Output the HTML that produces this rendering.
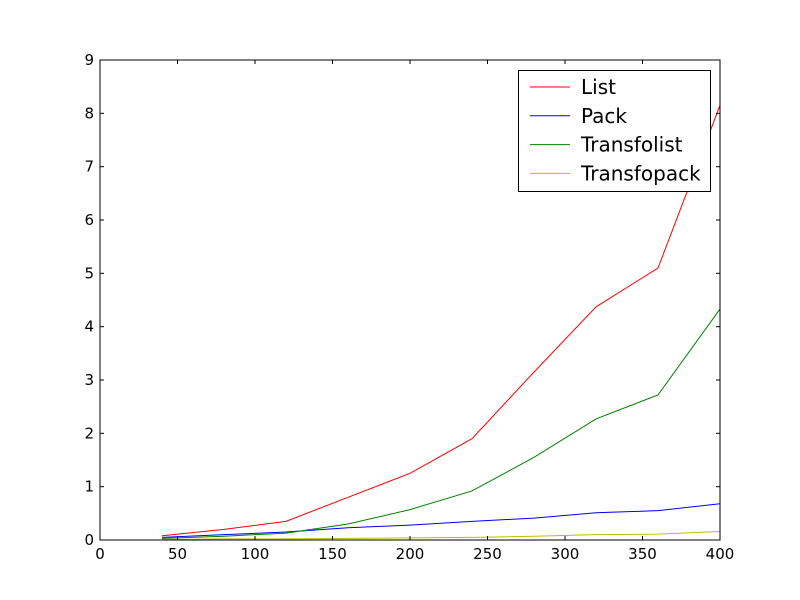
<!DOCTYPE html>
<html><head><meta charset="utf-8"><style>
body{margin:0;background:#fff}
svg{display:block;font-family:"DejaVu Sans","Liberation Sans",sans-serif}
</style></head><body>
<svg id="chart" width="800" height="600">
<rect width="800" height="600" fill="#fff"/>
<g id="plot"></g>
<rect x="100" y="60" width="620" height="480" fill="none" stroke="#000" stroke-width="1"/>
<g id="ticks"></g>
<g id="legend"></g>
</svg>
<script>
const xValues=[40,80,120,160,200,240,280,320,360,400];
const listValues=[0.08,0.2,0.35,0.8,1.25,1.9,3.15,4.37,5.1,8.15];
const packValues=[0.05,0.1,0.15,0.23,0.28,0.35,0.41,0.51,0.55,0.68];
const transfolistValues=[0.03,0.07,0.13,0.3,0.57,0.92,1.55,2.27,2.72,4.33];
const transfopackValues=[0.01,0.02,0.02,0.03,0.04,0.05,0.07,0.1,0.11,0.16];
const xTicks=[0,50,100,150,200,250,300,350,400];
const yTicks=[0,1,2,3,4,5,6,7,8,9];
const seriesNames=["List","Pack","Transfolist","Transfopack"];
const seriesColors=["#ff0000","#0000ff","#008000","#bfbf00"];

const NS="http://www.w3.org/2000/svg";
const L=100,R=720,T=60,B=540;
const xs=v=>L+(v-0)/(400-0)*(R-L);
const ys=v=>B-(v-0)/(9-0)*(B-T);
function mk(tag,attrs,parent){const e=document.createElementNS(NS,tag);for(const k in attrs)e.setAttribute(k,attrs[k]);parent.appendChild(e);return e;}
const plot=document.getElementById('plot');
const allSeries=[listValues,packValues,transfolistValues,transfopackValues];
allSeries.forEach((vals,i)=>{
  const p=mk('polyline',{points:vals.map((v,j)=>xs(xValues[j])+','+ys(v)).join(' '),fill:'none',stroke:seriesColors[i],'stroke-width':1},plot);
  
  
});
const tk=document.getElementById('ticks');
xTicks.forEach(t=>{
  const x=xs(t);
  mk('line',{x1:x,x2:x,y1:B,y2:B-4,stroke:'#000'},tk);
  mk('line',{x1:x,x2:x,y1:T,y2:T+4,stroke:'#000'},tk);
  const tx=mk('text',{x:x,y:B+19,'font-size':15,'text-anchor':'middle'},tk);
  tx.textContent=t;
  
  
});
yTicks.forEach(t=>{
  const y=ys(t);
  mk('line',{x1:L,x2:L+4,y1:y,y2:y,stroke:'#000'},tk);
  mk('line',{x1:R,x2:R-4,y1:y,y2:y,stroke:'#000'},tk);
  const tx=mk('text',{x:L-6,y:y+5,'font-size':15,'text-anchor':'end'},tk);
  tx.textContent=t;
  
  
});
const lg=document.getElementById('legend');
const box=mk('rect',{x:518.5,y:70.5,width:192,height:121,fill:'#fff',stroke:'#000'},lg);


seriesNames.forEach((n,i)=>{
  const y=87+i*28.8;
  const ln=mk('line',{x1:530,x2:570,y1:y,y2:y,stroke:seriesColors[i]},lg);
  
  
  const tx=mk('text',{x:581,y:y+7,'font-size':20},lg);
  tx.textContent=n;
  
  
});
</script>
</body></html>
